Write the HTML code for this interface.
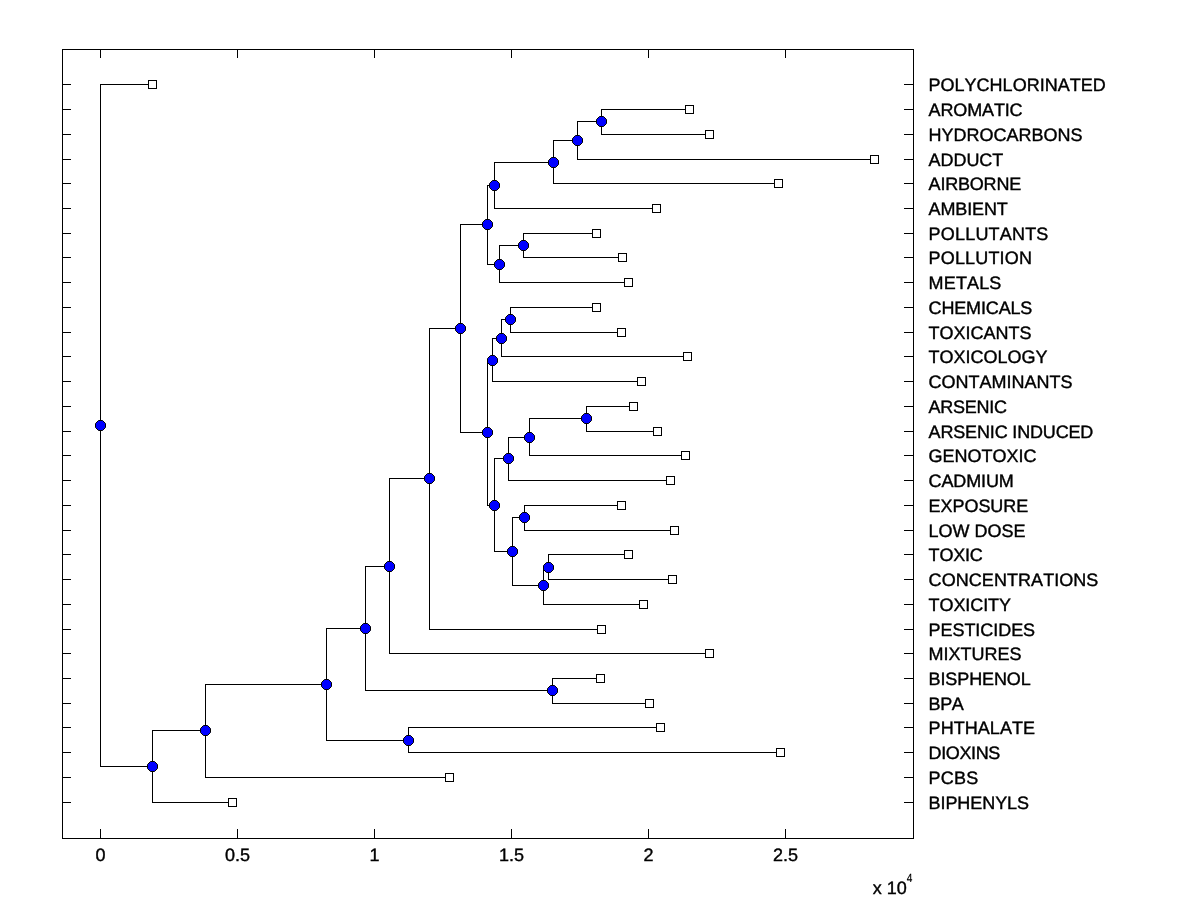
<!DOCTYPE html>
<html><head><meta charset="utf-8"><title>Dendrogram</title>
<style>html,body{margin:0;padding:0;background:#fff}body{width:1200px;height:900px;position:relative;overflow:hidden}</style></head>
<body>
<svg width="1200" height="900" viewBox="0 0 1200 900" style="position:absolute;left:0;top:0">
<path d="M62 49h852v1h-852zM62 838h852v1h-852zM62 49h1v790h-1zM913 49h1v790h-1zM100 829h1v10h-1zM100 49h1v9h-1zM237 829h1v10h-1zM237 49h1v9h-1zM374 829h1v10h-1zM374 49h1v9h-1zM511 829h1v10h-1zM511 49h1v9h-1zM648 829h1v10h-1zM648 49h1v9h-1zM785 829h1v10h-1zM785 49h1v9h-1zM62 84h9v1h-9zM904 84h10v1h-10zM62 109h9v1h-9zM904 109h10v1h-10zM62 134h9v1h-9zM904 134h10v1h-10zM62 159h9v1h-9zM904 159h10v1h-10zM62 183h9v1h-9zM904 183h10v1h-10zM62 208h9v1h-9zM904 208h10v1h-10zM62 233h9v1h-9zM904 233h10v1h-10zM62 257h9v1h-9zM904 257h10v1h-10zM62 282h9v1h-9zM904 282h10v1h-10zM62 307h9v1h-9zM904 307h10v1h-10zM62 332h9v1h-9zM904 332h10v1h-10zM62 356h9v1h-9zM904 356h10v1h-10zM62 381h9v1h-9zM904 381h10v1h-10zM62 406h9v1h-9zM904 406h10v1h-10zM62 431h9v1h-9zM904 431h10v1h-10zM62 455h9v1h-9zM904 455h10v1h-10zM62 480h9v1h-9zM904 480h10v1h-10zM62 505h9v1h-9zM904 505h10v1h-10zM62 530h9v1h-9zM904 530h10v1h-10zM62 554h9v1h-9zM904 554h10v1h-10zM62 579h9v1h-9zM904 579h10v1h-10zM62 604h9v1h-9zM904 604h10v1h-10zM62 629h9v1h-9zM904 629h10v1h-10zM62 653h9v1h-9zM904 653h10v1h-10zM62 678h9v1h-9zM904 678h10v1h-10zM62 703h9v1h-9zM904 703h10v1h-10zM62 727h9v1h-9zM904 727h10v1h-10zM62 752h9v1h-9zM904 752h10v1h-10zM62 777h9v1h-9zM904 777h10v1h-10zM62 802h9v1h-9zM904 802h10v1h-10zM601 109h1v26h-1zM601 109h85v1h-85zM601 134h105v1h-105zM577 121h1v39h-1zM577 121h25v1h-25zM577 159h294v1h-294zM553 140h1v44h-1zM553 140h25v1h-25zM553 183h222v1h-222zM494 162h1v47h-1zM494 162h60v1h-60zM494 208h159v1h-159zM523 233h1v25h-1zM523 233h70v1h-70zM523 257h96v1h-96zM499 245h1v38h-1zM499 245h25v1h-25zM499 282h126v1h-126zM487 185h1v80h-1zM487 185h8v1h-8zM487 264h13v1h-13zM510 307h1v26h-1zM510 307h83v1h-83zM510 332h108v1h-108zM501 319h1v38h-1zM501 319h10v1h-10zM501 356h183v1h-183zM492 338h1v44h-1zM492 338h10v1h-10zM492 381h146v1h-146zM586 406h1v26h-1zM586 406h44v1h-44zM586 431h68v1h-68zM529 418h1v38h-1zM529 418h58v1h-58zM529 455h153v1h-153zM508 437h1v44h-1zM508 437h22v1h-22zM508 480h159v1h-159zM524 505h1v26h-1zM524 505h94v1h-94zM524 530h147v1h-147zM548 554h1v26h-1zM548 554h77v1h-77zM548 579h121v1h-121zM543 567h1v38h-1zM543 567h6v1h-6zM543 604h97v1h-97zM512 517h1v69h-1zM512 517h13v1h-13zM512 585h32v1h-32zM494 458h1v94h-1zM494 458h15v1h-15zM494 551h19v1h-19zM487 360h1v146h-1zM487 360h6v1h-6zM487 505h8v1h-8zM460 224h1v209h-1zM460 224h28v1h-28zM460 432h28v1h-28zM429 328h1v302h-1zM429 328h32v1h-32zM429 629h169v1h-169zM389 478h1v176h-1zM389 478h41v1h-41zM389 653h317v1h-317zM552 678h1v26h-1zM552 678h45v1h-45zM552 703h94v1h-94zM365 566h1v125h-1zM365 566h25v1h-25zM365 690h188v1h-188zM408 727h1v26h-1zM408 727h249v1h-249zM408 752h369v1h-369zM326 628h1v113h-1zM326 628h40v1h-40zM326 740h83v1h-83zM205 684h1v94h-1zM205 684h122v1h-122zM205 777h241v1h-241zM152 730h1v73h-1zM152 730h54v1h-54zM152 802h77v1h-77zM100 84h1v683h-1zM100 84h49v1h-49zM100 766h53v1h-53z" fill="#000" shape-rendering="crispEdges"/>
<path d="M148.5 80.5h8v8h-8zM685.5 105.5h8v8h-8zM705.5 130.5h8v8h-8zM870.5 155.5h8v8h-8zM774.5 179.5h8v8h-8zM652.5 204.5h8v8h-8zM592.5 229.5h8v8h-8zM618.5 253.5h8v8h-8zM624.5 278.5h8v8h-8zM592.5 303.5h8v8h-8zM617.5 328.5h8v8h-8zM683.5 352.5h8v8h-8zM637.5 377.5h8v8h-8zM629.5 402.5h8v8h-8zM653.5 427.5h8v8h-8zM681.5 451.5h8v8h-8zM666.5 476.5h8v8h-8zM617.5 501.5h8v8h-8zM670.5 526.5h8v8h-8zM624.5 550.5h8v8h-8zM668.5 575.5h8v8h-8zM639.5 600.5h8v8h-8zM597.5 625.5h8v8h-8zM705.5 649.5h8v8h-8zM596.5 674.5h8v8h-8zM645.5 699.5h8v8h-8zM656.5 723.5h8v8h-8zM776.5 748.5h8v8h-8zM445.5 773.5h8v8h-8zM228.5 798.5h8v8h-8z" fill="#fff" stroke="#000" stroke-width="1" shape-rendering="crispEdges"/>
<path d="M599.5 116.5h4l3 3v4l-3 3h-4l-3 -3v-4zM575.5 135.5h4l3 3v4l-3 3h-4l-3 -3v-4zM551.5 157.5h4l3 3v4l-3 3h-4l-3 -3v-4zM492.5 180.5h4l3 3v4l-3 3h-4l-3 -3v-4zM521.5 240.5h4l3 3v4l-3 3h-4l-3 -3v-4zM497.5 259.5h4l3 3v4l-3 3h-4l-3 -3v-4zM485.5 219.5h4l3 3v4l-3 3h-4l-3 -3v-4zM508.5 314.5h4l3 3v4l-3 3h-4l-3 -3v-4zM499.5 333.5h4l3 3v4l-3 3h-4l-3 -3v-4zM490.5 355.5h4l3 3v4l-3 3h-4l-3 -3v-4zM584.5 413.5h4l3 3v4l-3 3h-4l-3 -3v-4zM527.5 432.5h4l3 3v4l-3 3h-4l-3 -3v-4zM506.5 453.5h4l3 3v4l-3 3h-4l-3 -3v-4zM522.5 512.5h4l3 3v4l-3 3h-4l-3 -3v-4zM546.5 562.5h4l3 3v4l-3 3h-4l-3 -3v-4zM541.5 580.5h4l3 3v4l-3 3h-4l-3 -3v-4zM510.5 546.5h4l3 3v4l-3 3h-4l-3 -3v-4zM492.5 500.5h4l3 3v4l-3 3h-4l-3 -3v-4zM485.5 427.5h4l3 3v4l-3 3h-4l-3 -3v-4zM458.5 323.5h4l3 3v4l-3 3h-4l-3 -3v-4zM427.5 473.5h4l3 3v4l-3 3h-4l-3 -3v-4zM387.5 561.5h4l3 3v4l-3 3h-4l-3 -3v-4zM550.5 685.5h4l3 3v4l-3 3h-4l-3 -3v-4zM363.5 623.5h4l3 3v4l-3 3h-4l-3 -3v-4zM406.5 735.5h4l3 3v4l-3 3h-4l-3 -3v-4zM324.5 679.5h4l3 3v4l-3 3h-4l-3 -3v-4zM203.5 725.5h4l3 3v4l-3 3h-4l-3 -3v-4zM150.5 761.5h4l3 3v4l-3 3h-4l-3 -3v-4zM98.5 420.5h4l3 3v4l-3 3h-4l-3 -3v-4z" fill="#0000ff" stroke="#000" stroke-width="1"/>
<g font-family="Liberation Sans, Arial, sans-serif" font-size="18" fill="#000" stroke="#000" stroke-width="0.4" stroke-linejoin="round" style="font-kerning:none" text-rendering="geometricPrecision">
<text x="928.6" y="91">POLYCHLORINATED</text>
<text x="928.6" y="116" letter-spacing="-0.14">AROMATIC</text>
<text x="928.6" y="141">HYDROCARBONS</text>
<text x="928.6" y="166" letter-spacing="-0.07">ADDUCT</text>
<text x="928.6" y="190" letter-spacing="-0.2">AIRBORNE</text>
<text x="928.6" y="215" letter-spacing="-0.14">AMBIENT</text>
<text x="928.6" y="240" letter-spacing="0.19">POLLUTANTS</text>
<text x="928.6" y="264" letter-spacing="0.16">POLLUTION</text>
<text x="928.6" y="289" letter-spacing="0.15">METALS</text>
<text x="928.6" y="314" letter-spacing="-0.16">CHEMICALS</text>
<text x="928.6" y="339">TOXICANTS</text>
<text x="928.6" y="363">TOXICOLOGY</text>
<text x="928.6" y="388">CONTAMINANTS</text>
<text x="928.6" y="413" letter-spacing="-0.25">ARSENIC</text>
<text x="928.6" y="438" letter-spacing="-0.16">ARSENIC INDUCED</text>
<text x="928.6" y="462">GENOTOXIC</text>
<text x="928.6" y="487" letter-spacing="-0.12">CADMIUM</text>
<text x="928.6" y="512" letter-spacing="-0.05">EXPOSURE</text>
<text x="928.6" y="537">LOW DOSE</text>
<text x="928.6" y="561" letter-spacing="-0.19">TOXIC</text>
<text x="928.6" y="586" letter-spacing="0.06">CONCENTRATIONS</text>
<text x="928.6" y="611" letter-spacing="-0.09">TOXICITY</text>
<text x="928.6" y="636" letter-spacing="-0.06">PESTICIDES</text>
<text x="928.6" y="660">MIXTURES</text>
<text x="928.6" y="685" letter-spacing="-0.12">BISPHENOL</text>
<text x="928.6" y="710" letter-spacing="-0.41">BPA</text>
<text x="928.6" y="734" letter-spacing="0.05">PHTHALATE</text>
<text x="928.6" y="759" letter-spacing="-0.38">DIOXINS</text>
<text x="928.6" y="784" letter-spacing="0.24">PCBS</text>
<text x="928.6" y="809" letter-spacing="-0.08">BIPHENYLS</text>
<text x="100.5" y="861" text-anchor="middle">0</text>
<text x="237.5" y="861" text-anchor="middle">0.5</text>
<text x="374.5" y="861" text-anchor="middle">1</text>
<text x="511.5" y="861" text-anchor="middle">1.5</text>
<text x="648.5" y="861" text-anchor="middle">2</text>
<text x="785.5" y="861" text-anchor="middle">2.5</text>
<text x="872.8" y="894">x 10</text>
<text x="906.7" y="882" font-size="12" stroke-width="0.2" textLength="5.6" lengthAdjust="spacingAndGlyphs">4</text>
</g></svg>
</body></html>
